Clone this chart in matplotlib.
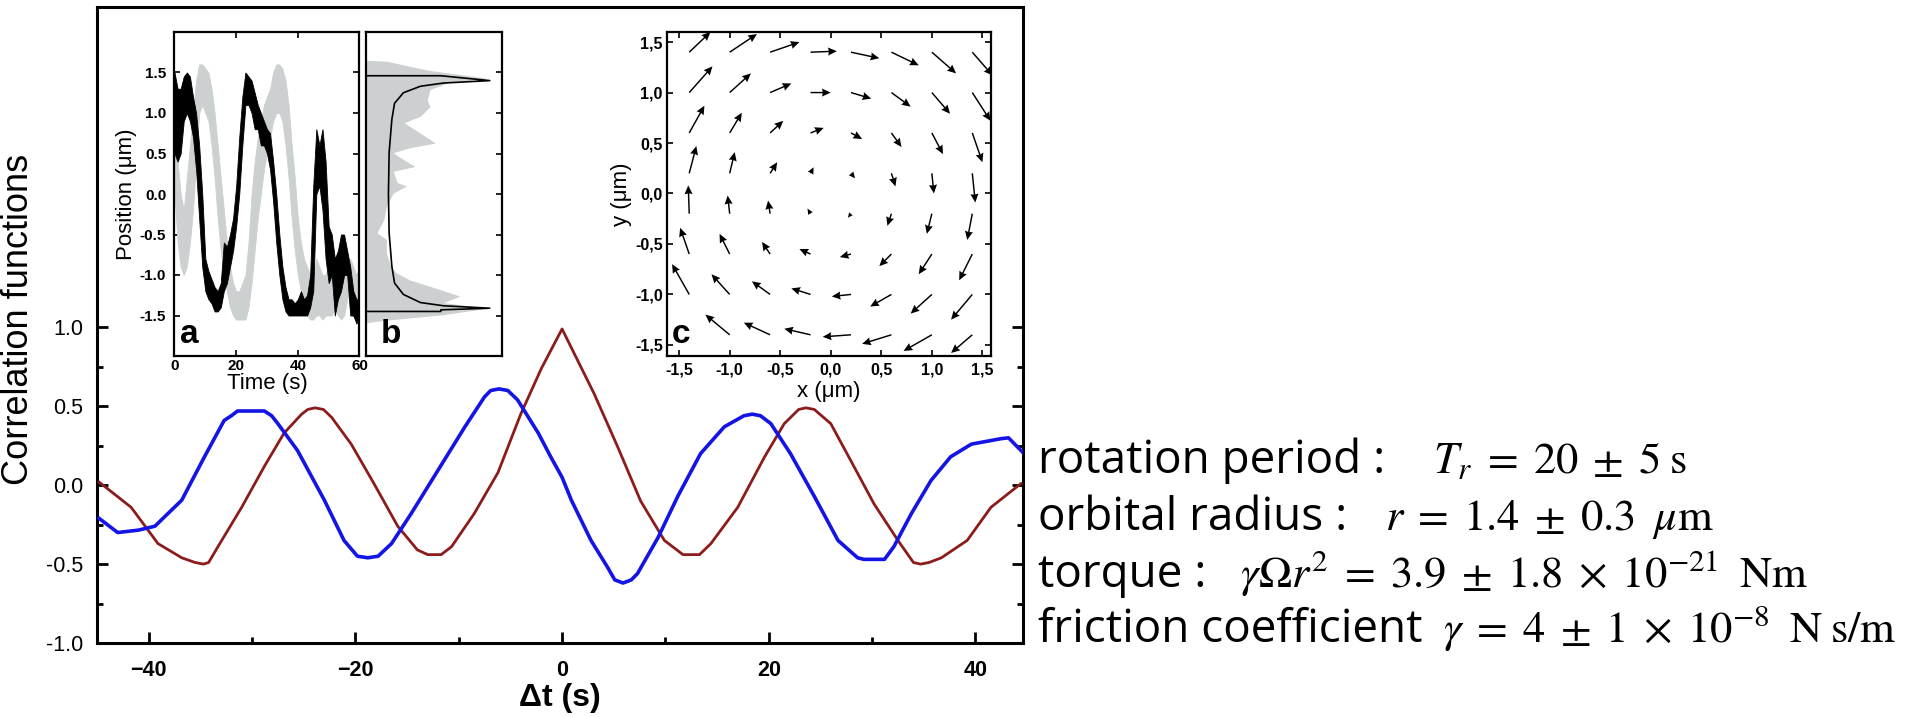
import matplotlib
matplotlib.use("Agg")
import matplotlib.pyplot as plt
import numpy as np
from matplotlib.ticker import FixedLocator, FuncFormatter

plt.rcParams['mathtext.fontset'] = 'stix'
plt.rcParams['font.family'] = ['Liberation Sans', 'DejaVu Sans']

# ---------------- main panel data ----------------
red_t = [-44.8, -41.7, -39.1, -36.8, -35.5, -34.7, -34.2, -33.3, -31.0, -28.8, -26.9,
         -25.2, -24.6, -23.9, -23.1, -22.3, -20.4, -18.2, -15.9, -14.0, -13.0, -12.3,
         -11.7, -10.7, -8.5, -6.2, -4.0, -2.0, 0.0, 3.1, 5.4, 7.6, 9.9, 11.7, 12.5,
         13.3, 14.4, 17.0, 19.6, 21.5, 22.9, 23.6, 24.4, 26.0, 27.9, 30.2, 32.5, 34.0,
         34.7, 35.5, 36.7, 39.2, 41.5, 44.4]
red_v = [0.02, -0.14, -0.37, -0.46, -0.49, -0.50, -0.49, -0.39, -0.14, 0.12, 0.33,
         0.45, 0.48, 0.49, 0.48, 0.43, 0.26, 0.01, -0.26, -0.41, -0.44, -0.44,
         -0.44, -0.39, -0.18, 0.08, 0.45, 0.74, 0.99, 0.58, 0.24, -0.10, -0.35, -0.44,
         -0.44, -0.44, -0.37, -0.14, 0.18, 0.39, 0.48, 0.49, 0.48, 0.39, 0.16, -0.12,
         -0.35, -0.49, -0.50, -0.49, -0.46, -0.35, -0.14, 0.01]

blue_t = [-44.8, -43.0, -41.0, -39.4, -36.8, -34.6, -32.7, -32.0, -31.4, -30.1, -28.8,
          -28.1, -27.5, -25.6, -23.0, -21.1, -19.8, -18.8, -17.8, -16.5, -14.6, -12.0,
          -9.4, -7.5, -6.9, -6.1, -5.25, -4.3, -2.3, -1.1, 0.0, 0.9, 2.8, 4.4, 5.1,
          5.9, 6.7, 7.3, 9.3, 11.2, 13.4, 15.7, 17.6, 18.4, 19.2, 20.2, 22.1, 24.4,
          26.7, 28.6, 29.2, 29.9, 31.0, 31.2, 32.1, 33.8, 35.7, 37.6, 39.6, 42.5,
          43.2, 44.7]
blue_v = [-0.21, -0.30, -0.285, -0.26, -0.095, 0.18, 0.41, 0.44, 0.47, 0.47, 0.47,
          0.44, 0.39, 0.22, -0.095, -0.35, -0.45, -0.46, -0.45, -0.37, -0.18, 0.095,
          0.37, 0.56, 0.60, 0.61, 0.60, 0.54, 0.33, 0.18, 0.05, -0.095, -0.35, -0.52,
          -0.60, -0.62, -0.60, -0.56, -0.33, -0.07, 0.20, 0.37, 0.44, 0.45, 0.44,
          0.39, 0.20, -0.07, -0.35, -0.46, -0.47, -0.47, -0.47, -0.47, -0.39, -0.18,
          0.03, 0.18, 0.26, 0.295, 0.30, 0.20]

main_yticks = [-1.0, -0.5, 0.0, 0.5, 1.0]
main_xticks = [-40, -20, 0, 20, 40]

# ---------------- inset a: position traces (envelopes read per second) --------
trace_t = list(range(0, 61))
black_lo = [0.5, 0.4, 0.5, 0.9, 1.0, 0.9, 0.7, 0.3, -0.3, -0.9, -1.2, -1.3, -1.35, -1.45,
            -1.45, -1.4, -1.2, -1.1, -0.9, -0.7, -0.4, 0.0, 0.6, 1.1, 1.1, 1.0, 0.8, 0.8,
            0.6, 0.6, 0.5, 0.3, -0.1, -0.6, -1.0, -1.3, -1.45, -1.5, -1.5, -1.5, -1.5,
            -1.5, -1.5, -1.5, -1.4, -1.2, 0.0, 0.1, -0.2, -0.8, -1.1, -1.0, -1.5, -1.3,
            -1.2, -1.0, -1.0, -1.5, -1.5, -1.6, -1.5]
black_hi = [1.5, 1.3, 1.3, 1.45, 1.5, 1.45, 1.2, 1.0, 0.6, 0.0, -0.8, -0.95, -1.05, -1.15,
            -1.2, -1.1, -0.6, -0.65, -0.5, -0.3, 0.1, 0.7, 1.2, 1.5, 1.45, 1.4, 1.25, 1.1,
            1.0, 0.9, 0.8, 0.75, 0.4, 0.0, -0.5, -0.9, -1.15, -1.3, -1.3, -1.35, -1.3,
            -1.2, -1.3, -1.25, -1.0, 0.1, 0.8, 0.6, 0.8, 0.4, -0.4, -0.5, -0.8, -0.7,
            -0.5, -0.5, -0.7, -0.9, -1.2, -1.3, -1.3]
gray_lo = [0.0, -0.6, -0.9, -1.0, -0.9, -0.6, -0.2, 0.4, 1.0, 1.1, 1.0, 0.9, 0.6, 0.2,
           -0.3, -0.7, -1.0, -1.2, -1.4, -1.5, -1.55, -1.55, -1.55, -1.55, -1.4, -1.1,
           -0.7, -0.3, 0.0, 0.3, 0.5, 0.7, 0.9, 1.0, 1.0, 0.9, 0.6, 0.2, -0.3, -0.7,
           -1.0, -1.2, -1.4, -1.5, -1.55, -1.55, -1.5, -1.5, -1.55, -1.5, -1.5, -1.5,
           -1.4, -1.5, -1.55, -1.5, -1.3, -1.2, -1.3, -1.4, -1.3]
gray_hi = [0.8, 0.4, 0.0, -0.2, 0.2, 0.6, 1.0, 1.4, 1.6, 1.6, 1.55, 1.5, 1.3, 1.0, 0.6,
           0.2, -0.2, -0.6, -0.9, -1.1, -1.2, -1.2, -1.1, -1.0, -0.6, 0.0, 0.4, 0.7,
           0.9, 1.1, 1.2, 1.3, 1.5, 1.6, 1.6, 1.55, 1.4, 1.1, 0.6, 0.2, -0.3, -0.6,
           -0.8, -0.9, -1.0, -1.0, -0.8, -0.9, -1.0, -1.0, -0.9, -1.0, -0.9, -1.0,
           -1.1, -1.0, -0.9, -0.8, -0.9, -1.0, -0.9]
inset_a_yticks = [-1.5, -1.0, -0.5, 0.0, 0.5, 1.0, 1.5]
inset_a_xticks = [0, 20, 40, 60]

# ---------------- inset b: position histogram + model curve ----------------
hist_y = [1.65, 1.64, 1.53, 1.43, 1.37, 1.29, 1.16, 1.08, 0.96, 0.88, 0.75, 0.63, 0.57,
          0.51, 0.42, 0.34, 0.28, 0.14, 0.10, 0.01, -0.15, -0.32, -0.48, -0.56, -0.73,
          -0.89, -0.97, -1.06, -1.14, -1.26, -1.34, -1.41, -1.49, -1.53, -1.57, -1.59]
hist_w = [0.0, 0.15, 0.45, 0.89, 0.60, 0.47, 0.45, 0.47, 0.40, 0.28, 0.40, 0.51, 0.32,
          0.20, 0.28, 0.36, 0.20, 0.23, 0.30, 0.20, 0.15, 0.13, 0.08, 0.15, 0.15,
          0.18, 0.22, 0.32, 0.47, 0.69, 0.57, 0.89, 0.57, 0.32, 0.08, 0.0]
model_y = [1.9, 1.46, 1.46, 1.40, 1.37, 1.33, 1.25, 1.12, 0.92, 0.51, 0.0, -0.48, -0.89,
           -1.10, -1.24, -1.34, -1.38, -1.41, -1.43, -1.45, -1.45, -1.9]
model_w = [0.0, 0.0, 0.55, 0.91, 0.57, 0.40, 0.275, 0.21, 0.19, 0.17, 0.165, 0.17, 0.19,
           0.21, 0.275, 0.40, 0.57, 0.91, 0.55, 0.55, 0.0, 0.0]

# ---------------- inset c: velocity field ----------------
grid_pos = [-1.4, -1.0, -0.6, -0.2, 0.2, 0.6, 1.0, 1.4]
U = [  # rows from y=1.4 down to y=-1.4
    [0.21, 0.27, 0.29, 0.26, 0.28, 0.27, 0.24, 0.20],
    [0.23, 0.21, 0.21, 0.20, 0.20, 0.19, 0.18, 0.18],
    [0.15, 0.12, 0.13, 0.13, 0.11, 0.10, 0.11, 0.10],
    [0.07, 0.05, 0.07, 0.03, 0.04, 0.04, 0.02, 0.03],
    [-0.01, -0.02, -0.02, -0.03, -0.03, -0.04, -0.05, -0.05],
    [-0.09, -0.10, -0.08, -0.11, -0.11, -0.12, -0.13, -0.13],
    [-0.17, -0.18, -0.18, -0.19, -0.19, -0.21, -0.21, -0.21],
    [np.nan, -0.24, -0.26, -0.26, -0.28, -0.29, -0.28, -0.21],
]
V = [
    [0.20, 0.18, 0.10, 0.01, -0.06, -0.13, -0.21, -0.23],
    [0.26, 0.19, 0.09, 0.00, -0.06, -0.14, -0.21, -0.28],
    [0.27, 0.20, 0.12, 0.05, -0.06, -0.14, -0.21, -0.29],
    [0.27, 0.21, 0.11, 0.06, -0.05, -0.13, -0.20, -0.29],
    [0.28, 0.18, 0.13, 0.05, -0.04, -0.12, -0.20, -0.26],
    [0.26, 0.20, 0.12, 0.05, -0.03, -0.12, -0.20, -0.26],
    [0.30, 0.20, 0.13, 0.06, -0.02, -0.12, -0.19, -0.25],
    [np.nan, 0.20, 0.12, 0.06, -0.02, -0.09, -0.16, -0.18],
]
inset_c_ticks = [-1.5, -1.0, -0.5, 0.0, 0.5, 1.0, 1.5]

# ---------------- figure ----------------
W, H = 1915, 717
fig = plt.figure(figsize=(W / 100, H / 100), dpi=100)


def box(l, t, r, b):
    return [l / W, 1 - b / H, (r - l) / W, (b - t) / H]


RED = '#8c1c1c'
BLUE = '#1414e6'
GRAY = '#ccd0d0'

ax = fig.add_axes(box(97, 7, 1023, 643))
ax.plot(red_t, red_v, color=RED, lw=2.0, zorder=3)
ax.plot(blue_t, blue_v, color=BLUE, lw=2.6, zorder=3)
ax.set_xlim(-45, 44.6)
ax.set_ylim(-1.0, 3.03)
ax.yaxis.set_major_locator(FixedLocator(main_yticks))
ax.yaxis.set_minor_locator(FixedLocator([-0.75, -0.25, 0.25, 0.75]))
ax.xaxis.set_major_locator(FixedLocator(main_xticks))
ax.xaxis.set_minor_locator(FixedLocator([-30, -10, 10, 30]))
ax.yaxis.set_major_formatter(FuncFormatter(lambda v, p: f"{v:.1f}"))
ax.tick_params(which='both', direction='in', right=True, top=False, width=2.0,
               labelsize=15.5)
ax.tick_params(which='major', length=8)
ax.tick_params(which='minor', length=4.5)
ax.tick_params(axis='y', pad=10)
ax.tick_params(axis='x', pad=12)
for lab in ax.get_xticklabels():
    lab.set_fontweight('bold')
for s in ax.spines.values():
    s.set_linewidth(2.2)
ax.set_xlabel('Δt (s)', fontsize=23, fontweight='bold', labelpad=2)
fig.text(36 / W, 1 - 319 / H, 'Correlation functions', rotation=90, fontsize=26,
         ha='right', va='center')

# inset a
axa = fig.add_axes(box(174.5, 32, 359.5, 356))
axa.fill_between(trace_t, gray_lo, gray_hi, color=GRAY, lw=0.6, zorder=2)
axa.fill_between(trace_t, black_lo, black_hi, color='black', lw=0.6, zorder=3)
axa.set_xlim(0, 60)
axa.set_ylim(-2.0, 2.0)
axa.set_xticks(inset_a_xticks)
axa.set_yticks(inset_a_yticks)
axa.yaxis.set_major_formatter(FuncFormatter(lambda v, p: f"{v:.1f}"))
axa.tick_params(direction='in', top=True, right=True, length=4, width=1.2, pad=2,
                labelsize=11)
for lab in axa.get_xticklabels() + axa.get_yticklabels():
    lab.set_fontweight('bold')
axa.tick_params(axis='y', pad=6)
for s in axa.spines.values():
    s.set_linewidth(1.6)
axa.set_xlabel('Time (s)', fontsize=16, labelpad=0)
axa.set_ylabel('Position (μm)', fontsize=16, labelpad=2)
axa.text(0.03, 0.04, 'a', transform=axa.transAxes, fontsize=24, fontweight='bold',
         ha='left', va='baseline')

# inset b
axb = fig.add_axes(box(366, 32, 502, 356))
axb.fill_betweenx(hist_y, 0, hist_w, color=GRAY, lw=0, zorder=2)
axb.plot(model_w, model_y, color='black', lw=1.2, zorder=3)
axb.set_xlim(0, 1)
axb.set_ylim(-2.0, 2.0)
axb.set_yticks(inset_a_yticks)
axb.set_yticklabels([])
axb.set_xticks([])
axb.tick_params(direction='in', left=True, right=True, length=4, width=1.2)
for s in axb.spines.values():
    s.set_linewidth(1.6)
axb.text(0.11, 0.04, 'b', transform=axb.transAxes, fontsize=24, fontweight='bold',
         ha='left', va='baseline')

# inset c
axc = fig.add_axes(box(667, 32, 991.5, 356))
gx, gy = np.meshgrid(grid_pos, grid_pos[::-1])
axc.quiver(gx, gy, np.array(U), np.array(V), angles='xy', scale_units='xy', scale=1,
           width=0.0045, headwidth=5.5, headlength=6, headaxislength=5.5, color='black')
axc.set_xlim(-1.62, 1.59)
axc.set_ylim(-1.61, 1.60)
axc.set_xticks(inset_c_ticks)
axc.set_yticks(inset_c_ticks)
comma = FuncFormatter(lambda v, p: f"{v:.1f}".replace('.', ','))
axc.xaxis.set_major_formatter(comma)
axc.yaxis.set_major_formatter(comma)
axc.tick_params(direction='in', top=True, right=True, length=4, width=1.2,
                labelsize=11.5)
axc.tick_params(axis='y', pad=3)
axc.tick_params(axis='x', pad=5)
for lab in axc.get_xticklabels() + axc.get_yticklabels():
    lab.set_fontweight('bold')
for s in axc.spines.values():
    s.set_linewidth(1.6)
axc.set_xlabel('x (μm)', fontsize=16, labelpad=2)
axc.set_ylabel('y (μm)', fontsize=16, labelpad=2)
axc.text(0.015, 0.04, 'c', transform=axc.transAxes, fontsize=24, fontweight='bold',
         ha='left', va='baseline')

# ---------------- right-hand text ----------------
label_font = dict(family=['Open Sans', 'DejaVu Sans'], fontsize=33, va='baseline',
                  ha='left')
math_kw = dict(fontsize=32, va='baseline', ha='left')
lines = [
    (473, 'rotation period :', 1433,
     r'$T_r\;=\;20\;\pm\;5\;\mathrm{s}$'),
    (530, 'orbital radius :', 1385,
     r'$r\;=\;1.4\;\pm\;0.3\;\;\mu\mathrm{m}$'),
    (587, 'torque :', 1240,
     r'$\gamma\Omega r^2\;=\;3.9\;\pm\;1.8\;\times\;10^{-21}\;\;\mathrm{Nm}$'),
    (642, 'friction coefficient', 1443,
     r'$\gamma\;=\;4\;\pm\;1\;\times\;10^{-8}\;\;\mathrm{N\;s/m}$'),
]
for yb, lab, xm, mth in lines:
    fig.text(1038 / W, 1 - yb / H, lab, **label_font)
    fig.text(xm / W, 1 - yb / H, mth, **math_kw)

fig.savefig('out.png', dpi=100)
